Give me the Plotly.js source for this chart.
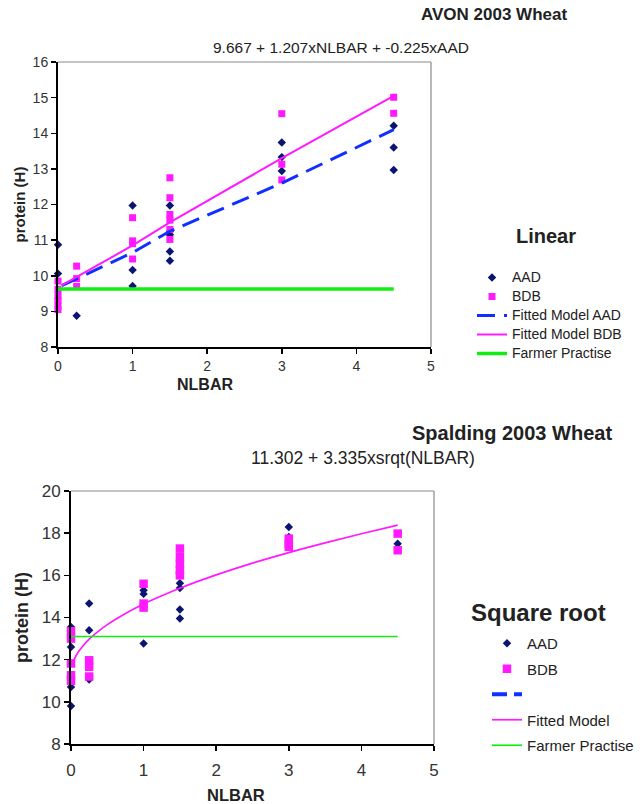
<!DOCTYPE html>
<html>
<head>
<meta charset="utf-8">
<script src="https://cdn.plot.ly/plotly-3.0.1.min.js"></script>
<style>html,body{margin:0;padding:0;background:#fff;}#chart{width:642px;height:804px;}</style>
</head>
<body>
<div id="chart"></div>
<script>
// ---------- AVON 2003 Wheat (Linear) ----------
var avonTitle = "AVON 2003 Wheat";
var avonEquation = "9.667 + 1.207xNLBAR + -0.225xAAD";
var avonLegendTitle = "Linear";
var avonNames = ["AAD", "BDB", "Fitted Model AAD", "Fitted Model BDB", "Farmer Practise"];

var avonAADx = [0, 0, 0.25, 1, 1, 1, 1.5, 1.5, 1.5, 1.5, 1.5, 3, 3, 3, 4.5, 4.5, 4.5];
var avonAADy = [10.87, 10.06, 8.88, 11.97, 10.16, 9.71, 11.97, 11.25, 11.15, 10.68, 10.42, 13.74, 13.33, 12.94, 14.21, 13.6, 12.97];

var avonBDBx = [0, 0, 0, 0, 0, 0, 0.25, 0.25, 0.25, 1, 1, 1, 1, 1.5, 1.5, 1.5, 1.5, 1.5, 1.5, 3, 3, 3, 4.5, 4.5];
var avonBDBy = [9.85, 9.62, 9.45, 9.3, 9.15, 9.05, 10.27, 9.92, 9.7, 11.63, 10.98, 10.9, 10.47, 12.75, 12.19, 11.72, 11.56, 11.3, 11.02, 14.55, 13.13, 12.69, 15.01, 14.56];

var avonFitAADx = [0.05, 1, 1.5, 3, 4.5];
var avonFitAADy = [9.72, 10.65, 11.25, 12.6, 14.1];

var avonFitBDBx = [0.05, 1, 1.5, 3, 4.5];
var avonFitBDBy = [9.73, 10.85, 11.5, 13.3, 15.05];

var avonFarmerX = [0, 4.5];
var avonFarmerY = [9.63, 9.63];

// ---------- Spalding 2003 Wheat (Square root) ----------
var spTitle = "Spalding 2003 Wheat";
var spEquation = "11.302 + 3.335xsrqt(NLBAR)";
var spLegendTitle = "Square root";
var spNames = ["AAD", "BDB", " ", "Fitted Model", "Farmer Practise"];

var spAADx = [0, 0, 0, 0, 0, 0.25, 0.25, 0.25, 1, 1, 1, 1.5, 1.5, 1.5, 1.5, 1.5, 3, 3, 3, 4.5];
var spAADy = [13.55, 13.08, 12.6, 10.7, 9.8, 14.66, 13.4, 11.06, 15.29, 15.12, 12.77, 16.15, 15.62, 15.4, 14.38, 13.95, 18.29, 17.82, 17.66, 17.5];

var spBDBx = [0, 0, 0, 0, 0, 0.25, 0.25, 0.25, 1, 1, 1, 1.5, 1.5, 1.5, 1.5, 1.5, 3, 3, 3, 4.5, 4.5];
var spBDBy = [13.35, 13.0, 11.82, 11.26, 11.0, 11.97, 11.66, 11.2, 15.6, 14.66, 14.47, 17.27, 16.87, 16.55, 16.24, 16.0, 17.74, 17.5, 17.35, 17.98, 17.19];

var spFitX = [0.02, 0.05, 0.1, 0.15, 0.25, 0.35, 0.5, 0.75, 1, 1.25, 1.5, 2, 2.5, 3, 3.5, 4, 4.5];
var spFitY = [11.77, 12.05, 12.36, 12.59, 12.97, 13.27, 13.66, 14.19, 14.64, 15.03, 15.39, 16.02, 16.58, 17.08, 17.54, 17.97, 18.38];

var spFarmerX = [0, 4.5];
var spFarmerY = [13.1, 13.1];

var xTitle = "NLBAR";
var yTitle = "protein (H)";
var xTicks = [0, 1, 2, 3, 4, 5];

// ---------- styles ----------
var FONT = "Liberation Sans, Arial, sans-serif";
var NAVY = "#0b1470";
var MAGENTA = "#ff1aff";
var BLUE = "#1030ff";
var GREEN = "#11ee11";
var W = 642, H = 804;
function px(x) { return x / W; }
function py(y) { return 1 - y / H; }
function big(s) { return '<span style="font-size:14px">' + s + '</span>'; }

var traces = [
  // top
  {x: avonAADx, y: avonAADy, type: "scatter", mode: "markers", name: big(avonNames[0]), xaxis: "x", yaxis: "y", legend: "legend",
   marker: {symbol: "diamond", size: 6.5, color: NAVY}, cliponaxis: false},
  {x: avonBDBx, y: avonBDBy, type: "scatter", mode: "markers", name: big(avonNames[1]), xaxis: "x", yaxis: "y", legend: "legend",
   marker: {symbol: "square", size: 7, color: MAGENTA}, cliponaxis: false},
  {x: avonFitAADx, y: avonFitAADy, type: "scatter", mode: "lines", name: big(avonNames[2]), xaxis: "x", yaxis: "y", legend: "legend",
   line: {color: BLUE, width: 3, dash: "18px,9px"}},
  {x: avonFitBDBx, y: avonFitBDBy, type: "scatter", mode: "lines", name: big(avonNames[3]), xaxis: "x", yaxis: "y", legend: "legend",
   line: {color: MAGENTA, width: 2}},
  {x: avonFarmerX, y: avonFarmerY, type: "scatter", mode: "lines", name: big(avonNames[4]), xaxis: "x", yaxis: "y", legend: "legend",
   line: {color: GREEN, width: 3.5}},
  // bottom
  {x: spAADx, y: spAADy, type: "scatter", mode: "markers", name: spNames[0], xaxis: "x2", yaxis: "y2", legend: "legend2", legendgroup: "g1",
   marker: {symbol: "diamond", size: 6.5, color: NAVY}, cliponaxis: false},
  {x: spBDBx, y: spBDBy, type: "scatter", mode: "markers", name: spNames[1], xaxis: "x2", yaxis: "y2", legend: "legend2", legendgroup: "g2",
   marker: {symbol: "square", size: 8.5, color: MAGENTA}, cliponaxis: false},
  {x: [null], y: [null], type: "scatter", mode: "lines", name: spNames[2], xaxis: "x2", yaxis: "y2", legend: "legend2", legendgroup: "g3",
   line: {color: BLUE, width: 4, dash: "15px,7px"}},
  {x: spFitX, y: spFitY, type: "scatter", mode: "lines", name: spNames[3], xaxis: "x2", yaxis: "y2", legend: "legend2", legendgroup: "g4",
   line: {color: MAGENTA, width: 1.7, shape: "spline"}},
  {x: spFarmerX, y: spFarmerY, type: "scatter", mode: "lines", name: spNames[4], xaxis: "x2", yaxis: "y2", legend: "legend2", legendgroup: "g5",
   line: {color: GREEN, width: 1.7}}
];

function xAxis(dom, anchor, fs, standoff) {
  return {domain: dom, anchor: anchor, range: [0, 5], tickvals: xTicks, ticks: "outside", ticklen: 5, tickwidth: 1.5,
    tickcolor: "#000", showline: true, linecolor: "#000", linewidth: 2, showgrid: false, zeroline: false,
    ticklabelstandoff: standoff,
    tickfont: {family: FONT, size: fs, color: "#333"}, fixedrange: true};
}
function yAxis(dom, anchor, range, dtick, fs, tfs, standoff) {
  return {domain: dom, anchor: anchor, range: range, dtick: dtick, tick0: 0, ticks: "outside", ticklen: 5, tickwidth: 1.5,
    tickcolor: "#000", showline: true, linecolor: "#000", linewidth: 2, showgrid: false, zeroline: false,
    tickfont: {family: FONT, size: fs, color: "#333"}, fixedrange: true,
    title: {text: yTitle, font: {family: FONT, size: tfs, color: "#222", weight: "bold"}, standoff: standoff}};
}

var layout = {
  width: W, height: H, margin: {l: 0, r: 0, t: 0, b: 0}, paper_bgcolor: "#fff", plot_bgcolor: "#fff",
  font: {family: FONT, color: "#222"},
  xaxis: xAxis([px(58), px(431)], "y", 14, 0),
  yaxis: yAxis([py(347), py(62)], "x", [8, 16], 1, 14, 15, 3),
  xaxis2: xAxis([px(71), px(434)], "y2", 17, 5),
  yaxis2: yAxis([py(744), py(491)], "x2", [8, 20], 2, 17, 18, 8),
  legend: {x: px(472), y: py(263), xanchor: "left", yanchor: "top", font: {family: FONT, size: 11, color: "#222"},
    bgcolor: "rgba(0,0,0,0)", borderwidth: 0, traceorder: "normal"},
  legend2: {x: px(487), y: py(627), xanchor: "left", yanchor: "top", font: {family: FONT, size: 15, color: "#222"},
    bgcolor: "rgba(0,0,0,0)", borderwidth: 0, traceorder: "grouped", tracegroupgap: 3},
  shapes: [
    {type: "line", xref: "x domain", yref: "y domain", x0: 0, x1: 1, y0: 1, y1: 1, line: {color: "#8a8a8a", width: 1.2}},
    {type: "line", xref: "x domain", yref: "y domain", x0: 1, x1: 1, y0: 0, y1: 1, line: {color: "#8a8a8a", width: 1.2}},
    {type: "line", xref: "x2 domain", yref: "y2 domain", x0: 0, x1: 1, y0: 1, y1: 1, line: {color: "#8a8a8a", width: 1.2}},
    {type: "line", xref: "x2 domain", yref: "y2 domain", x0: 1, x1: 1, y0: 0, y1: 1, line: {color: "#8a8a8a", width: 1.2}}
  ],
  annotations: [
    {text: "<b>" + avonTitle + "</b>", xref: "paper", yref: "paper", x: px(494), y: py(15), showarrow: false,
     font: {family: FONT, size: 17, color: "#222"}, xanchor: "center", yanchor: "middle"},
    {text: avonEquation, xref: "paper", yref: "paper", x: px(341), y: py(48), showarrow: false,
     font: {family: FONT, size: 15.5, color: "#222"}, xanchor: "center", yanchor: "middle"},
    {text: "<b>" + xTitle + "</b>", xref: "paper", yref: "paper", x: px(205), y: py(384), showarrow: false,
     font: {family: FONT, size: 16, color: "#222"}, xanchor: "center", yanchor: "middle"},
    {text: "<b>" + avonLegendTitle + "</b>", xref: "paper", yref: "paper", x: px(546), y: py(236), showarrow: false,
     font: {family: FONT, size: 20, color: "#222"}, xanchor: "center", yanchor: "middle"},
    {text: "<b>" + spTitle + "</b>", xref: "paper", yref: "paper", x: px(512), y: py(433), showarrow: false,
     font: {family: FONT, size: 20, color: "#222"}, xanchor: "center", yanchor: "middle"},
    {text: spEquation, xref: "paper", yref: "paper", x: px(363), y: py(458), showarrow: false,
     font: {family: FONT, size: 17.5, color: "#222"}, xanchor: "center", yanchor: "middle"},
    {text: "<b>" + xTitle + "</b>", xref: "paper", yref: "paper", x: px(236), y: py(795), showarrow: false,
     font: {family: FONT, size: 16.5, color: "#222"}, xanchor: "center", yanchor: "middle"},
    {text: "<b>" + spLegendTitle + "</b>", xref: "paper", yref: "paper", x: px(538), y: py(612), showarrow: false,
     font: {family: FONT, size: 24, color: "#222"}, xanchor: "center", yanchor: "middle"}
  ]
};

Plotly.newPlot("chart", traces, layout, {staticPlot: true, displayModeBar: false});
</script>
</body>
</html>
